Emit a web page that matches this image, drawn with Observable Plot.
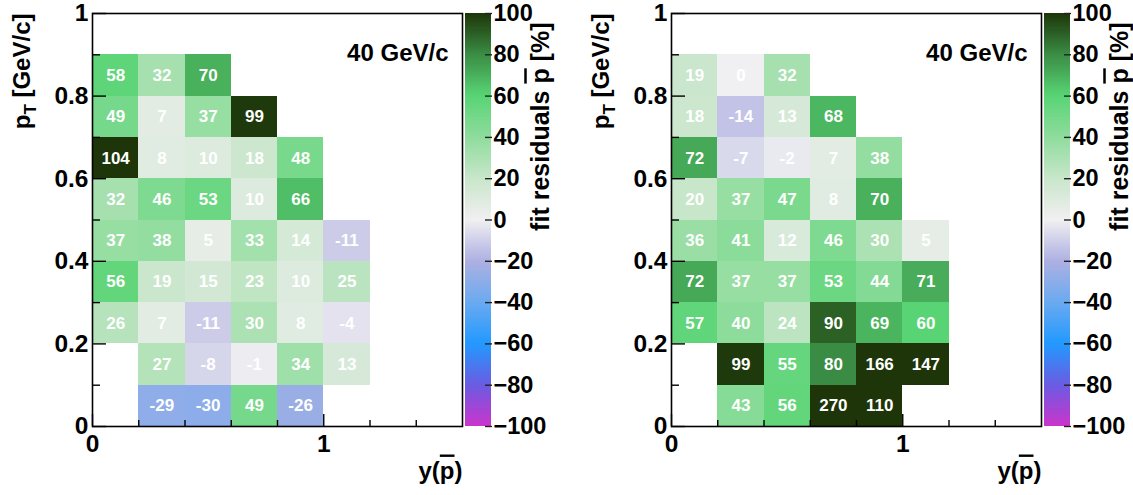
<!DOCTYPE html>
<html>
<head>
<meta charset="utf-8">
<script src="https://cdn.jsdelivr.net/npm/d3@7"></script>
<script src="https://cdn.jsdelivr.net/npm/@observablehq/plot@0.6"></script>
<style>
  html, body { margin: 0; padding: 0; background: #fff; overflow: hidden; }
  #wrap { position: relative; width: 1133px; height: 495px; overflow: hidden; }
  #wrap > svg { position: absolute; top: 0; }
</style>
</head>
<body>
<div id="wrap"></div>
<script>
// ---- data ----
// rapidity bin edges y(pbar)
const rapidityEdges = [0, 0.2, 0.4, 0.6, 0.8, 1.0, 1.2];
// lower pT edge of each row, listed top -> bottom (bin height 0.1 GeV/c)
const ptLowEdges = [0.8, 0.7, 0.6, 0.5, 0.4, 0.3, 0.2, 0.1, 0.0];
const ptBinWidth = 0.1;

// fit residuals [%] per row (top -> bottom), per rapidity bin (left -> right)
const residualsLeft = [
  [58, 32, 70, null, null, null],
  [49, 7, 37, 99, null, null],
  [104, 8, 10, 18, 48, null],
  [32, 46, 53, 10, 66, null],
  [37, 38, 5, 33, 14, -11],
  [56, 19, 15, 23, 10, 25],
  [26, 7, -11, 30, 8, -4],
  [null, 27, -8, -1, 34, 13],
  [null, -29, -30, 49, -26, null]
];
const residualsRight = [
  [19, 0, 32, null, null, null],
  [18, -14, 13, 68, null, null],
  [72, -7, -2, 7, 38, null],
  [20, 37, 47, 8, 70, null],
  [36, 41, 12, 46, 30, 5],
  [72, 37, 37, 53, 44, 71],
  [57, 40, 24, 90, 69, 60],
  [null, 99, 55, 80, 166, 147],
  [null, 43, 56, 270, 110, null]
];

const yMajorTicks = [0, 0.2, 0.4, 0.6, 0.8, 1];
const yMajorLabels = ["0", "0.2", "0.4", "0.6", "0.8", "1"];
const yMinorTicks = [0.1, 0.3, 0.5, 0.7, 0.9];
const xMajorTicks = [0, 1];
const xMajorLabels = ["0", "1"];
const xMinorTicks = [0.2, 0.4, 0.6, 0.8, 1.2, 1.4];
const colorTicks = [-100, -80, -60, -40, -20, 0, 20, 40, 60, 80, 100];

const paletteStops = [-100, -80, -60, -40, -20, 0, 20, 40, 60, 80, 100];
const paletteColors = ["#cc33cc", "#6a5ce2", "#2299ff", "#6aaaf0", "#aeb0e2", "#f0eff1",
                       "#c8e6ca", "#8edc9c", "#58d474", "#3a8c44", "#1d3508"];

const energyLabel = "40 GeV/c";
const xTitle = "y(p\u0304)";
const yTitle = "p_T [GeV/c]";
const zTitle = "fit residuals p\u0304 [%]";

// ---- helpers ----
const FONT = "'Liberation Sans', Arial, Helvetica, sans-serif";
const colorScale = {type: "linear", domain: paletteStops, range: paletteColors, clamp: true, interpolate: "rgb"};

function toCells(grid) {
  const out = [];
  grid.forEach((row, r) => row.forEach((v, c) => {
    if (v === null) return;
    out.push({x1: rapidityEdges[c], x2: rapidityEdges[c + 1],
              y1: ptLowEdges[r], y2: ptLowEdges[r] + ptBinWidth, v});
  }));
  return out;
}

function decorate(svg) {
  const NS = "http://www.w3.org/2000/svg";
  svg.querySelectorAll("text").forEach(t => {
    const s = t.textContent;
    if (!(s.includes("\u0304") || s.includes("_T"))) return;
    const parts = s.split(/(p\u0304|p_T)/);
    t.textContent = "";
    let pendingDy = 0;
    for (const p of parts) {
      if (!p) continue;
      if (p === "p\u0304") {
        const ts = document.createElementNS(NS, "tspan");
        ts.textContent = "p";
        ts.setAttribute("text-decoration", "overline");
        ts.style.textDecoration = "overline";
        if (pendingDy) { ts.setAttribute("dy", pendingDy); pendingDy = 0; }
        t.appendChild(ts);
      } else if (p === "p_T") {
        const a = document.createElementNS(NS, "tspan");
        a.textContent = "p";
        t.appendChild(a);
        const b = document.createElementNS(NS, "tspan");
        b.textContent = "T";
        b.setAttribute("font-size", "17");
        b.setAttribute("dy", "6");
        t.appendChild(b);
        pendingDy = -6;
      } else {
        const ts = document.createElementNS(NS, "tspan");
        ts.textContent = p;
        if (pendingDy) { ts.setAttribute("dy", pendingDy); pendingDy = 0; }
        t.appendChild(ts);
      }
    }
  });
}

function panel(grid, left) {
  const cells = toCells(grid);
  const main = Plot.plot({
    width: 566, height: 495,
    marginLeft: 92, marginRight: 104, marginTop: 13, marginBottom: 69,
    style: {fontFamily: FONT, fontWeight: "bold", overflow: "visible", background: "transparent"},
    x: {domain: [0, 1.6]},
    y: {domain: [0, 1]},
    color: colorScale,
    marks: [
      Plot.rect(cells, {x1: "x1", x2: "x2", y1: "y1", y2: "y2", fill: "v", shapeRendering: "crispEdges"}),
      Plot.text(cells, {x: d => (d.x1 + d.x2) / 2, y: d => (d.y1 + d.y2) / 2, text: d => String(d.v),
                        fill: "white", fontSize: 17, fontWeight: "bold"}),
      Plot.frame({stroke: "black", strokeWidth: 1.6}),
      Plot.axisY({ticks: yMajorTicks, tickSize: -14, tickFormat: () => "", label: null, stroke: "black", strokeWidth: 1.4}),
      Plot.axisY({ticks: yMinorTicks, tickSize: -8, tickFormat: () => "", label: null, stroke: "black", strokeWidth: 1.4}),
      Plot.axisY({ticks: yMajorTicks, tickSize: 0, tickPadding: 4, label: null, fontSize: 24.5, fontWeight: "bold", fill: "black",
                  tickFormat: d => yMajorLabels[yMajorTicks.indexOf(d)]}),
      Plot.axisX({ticks: xMajorTicks, tickSize: -12, tickFormat: () => "", label: null, stroke: "black", strokeWidth: 1.4}),
      Plot.axisX({ticks: xMinorTicks, tickSize: -6, tickFormat: () => "", label: null, stroke: "black", strokeWidth: 1.4}),
      Plot.axisX({ticks: xMajorTicks, tickSize: 0, tickPadding: 8, label: null, fontSize: 24.5, fontWeight: "bold", fill: "black",
                  tickFormat: d => xMajorLabels[xMajorTicks.indexOf(d)]}),
      Plot.text([energyLabel], {text: d => d, frameAnchor: "top-right", dx: -14, dy: 30, textAnchor: "end",
                                fontSize: 24, fontWeight: "bold", fill: "black"}),
      Plot.text([yTitle], {text: d => d, frameAnchor: "top-left", dx: -80, dy: 0, rotate: -90, textAnchor: "end",
                           fontSize: 24, fontWeight: "bold", fill: "black"}),
      Plot.text([xTitle], {text: d => d, frameAnchor: "bottom-right", dy: 52, textAnchor: "end",
                           fontSize: 24, fontWeight: "bold", fill: "black"})
    ]
  });
  main.style.left = left + "px";
  decorate(main);

  const bar = Plot.plot({
    width: 110, height: 495,
    marginLeft: 0, marginRight: 84, marginTop: 13, marginBottom: 69,
    style: {fontFamily: FONT, fontWeight: "bold", overflow: "visible", background: "transparent"},
    x: {axis: null},
    y: {domain: [-100, 100]},
    color: colorScale,
    marks: [
      Plot.rect(d3.range(-100, 100, 0.5), {y1: d => d, y2: d => d + 0.5, fill: d => d + 0.25, shapeRendering: "crispEdges"}),
      Plot.axisY({ticks: colorTicks, anchor: "right", tickSize: -7, tickFormat: () => "", label: null, stroke: "#222", strokeWidth: 1.4}),
      Plot.axisY({ticks: colorTicks, anchor: "right", tickSize: 0, tickPadding: 2, label: null, fontSize: 23.5, fontWeight: "bold", fill: "black"}),
      Plot.text([zTitle], {text: d => d, frameAnchor: "top-right", dx: 40, dy: 9, rotate: -90, textAnchor: "end",
                           fontSize: 25, fontWeight: "bold", fill: "black"})
    ]
  });
  bar.style.left = (left + 465) + "px";
  decorate(bar);

  const wrap = document.getElementById("wrap");
  wrap.appendChild(main);
  wrap.appendChild(bar);
}

panel(residualsLeft, 0);
panel(residualsRight, 579);
</script>
</body>
</html>
